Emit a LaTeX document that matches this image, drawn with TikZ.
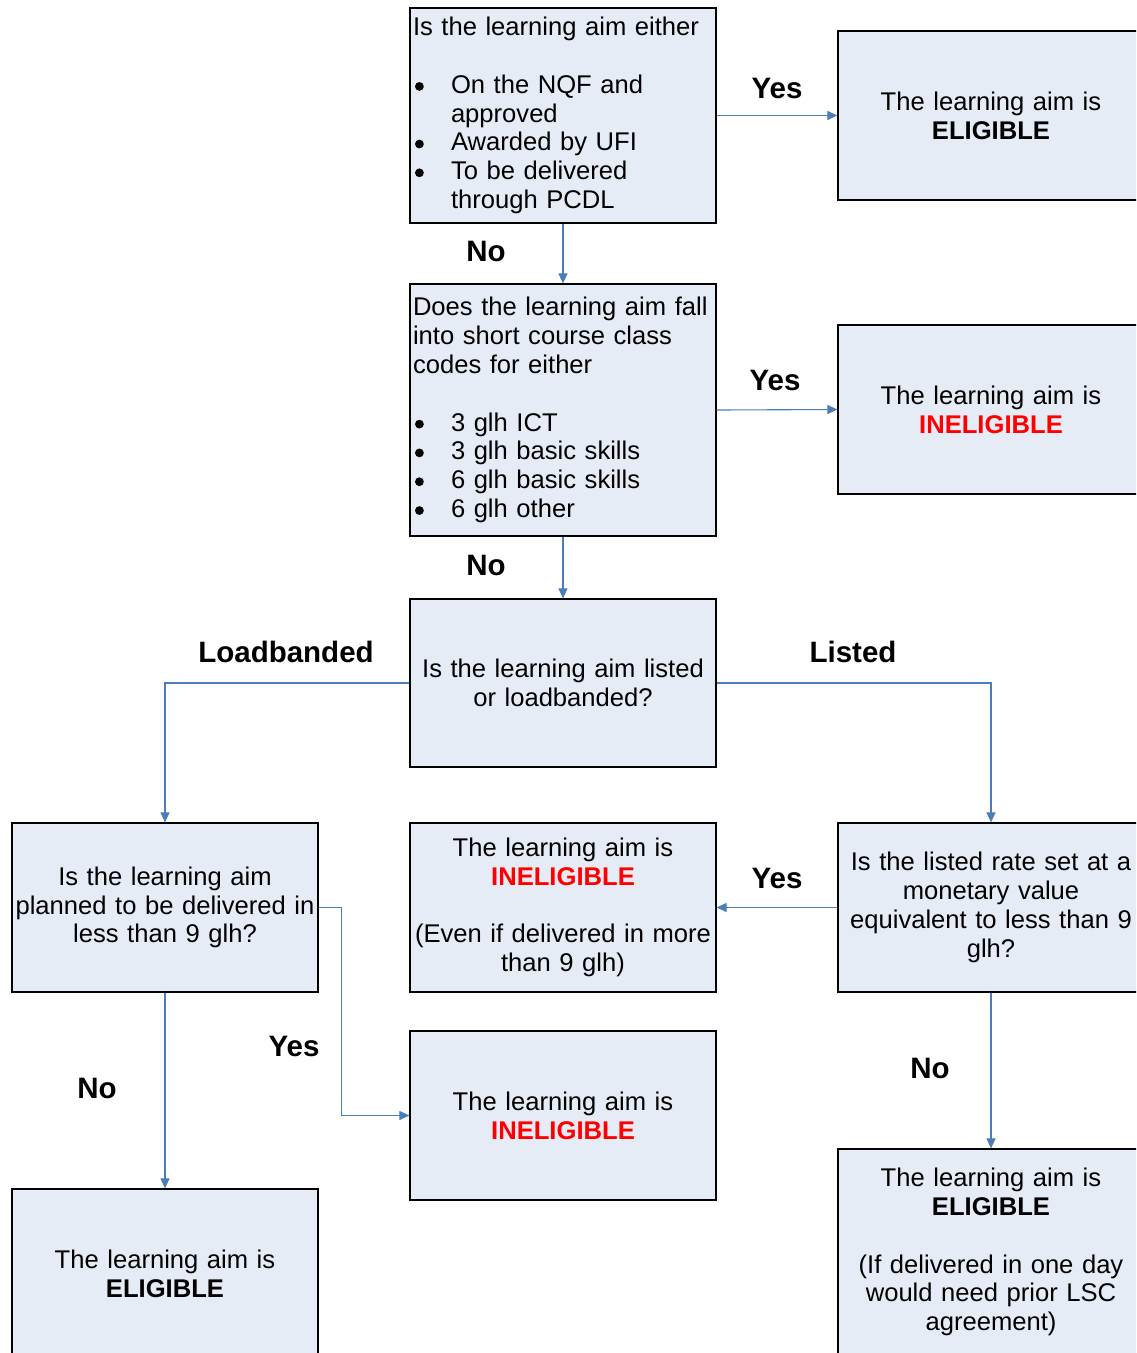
\documentclass[tikz,border=0pt]{standalone}
\usepackage{fontspec}
\setmainfont{Liberation Sans}
\usetikzlibrary{arrows.meta}
\definecolor{boxfill}{HTML}{E6ECF6}
\definecolor{linkblue}{HTML}{4A7EBB}
\definecolor{inelred}{HTML}{FF0000}
\newcommand{\blt}[1]{\makebox[40pt][l]{\hspace{4pt}\raisebox{2.5pt}{\tikz\fill[black] (0,0) circle (4.4pt);}}#1}
\newcommand{\inel}{\textcolor{inelred}{\textbf{INELIGIBLE}}}
\begin{document}
\begin{tikzpicture}[x=1pt,y=-1pt,
  box/.style={draw=black, line width=1.2pt, fill=boxfill, minimum width=306pt,
    minimum height=169pt, inner xsep=1pt, inner ysep=2pt, text width=304pt,
    align=center, font=\fontsize{25.6}{28.8}\selectfont},
  lbox/.style={box, align=left},
  link/.style={draw=linkblue, line width=1.1pt, -{Triangle[length=10pt,width=9pt]}},
  lab/.style={font=\bfseries\fontsize{29.5}{32}\selectfont, inner sep=0pt}]
\useasboundingbox (0,0) rectangle (1136,1353);
\clip (0,0) rectangle (1136,1353);

\node[lbox, minimum height=215pt] (b1) at (563,115.5)
  {\hspace*{2pt}Is the learning aim either\\[28.8pt]
   \blt{On the NQF and}\\\hspace*{40pt}approved\\
   \blt{Awarded by UFI}\\
   \blt{To be delivered}\\\hspace*{40pt}through PCDL};
\node[box] (y1) at (991,115.5) {The learning aim is\\\textbf{ELIGIBLE}};

\node[lbox, minimum height=252pt] (b2) at (563,410)
  {\hspace*{2pt}Does the learning aim fall\\\hspace*{2pt}into short course class\\\hspace*{2pt}codes for either\\[28.8pt]
   \blt{3 glh ICT}\\\blt{3 glh basic skills}\\\blt{6 glh basic skills}\\\blt{6 glh other}};
\node[box] (y2) at (991,409.5) {The learning aim is\\\inel};

\node[box, minimum height=168pt] (b3) at (563,683) {Is the learning aim listed\\or loadbanded?};

\node[box] (b4) at (165,907.5) {Is the learning aim\\planned to be delivered in\\less than 9 glh?};
\node[box] (b5) at (563,907.5) {The learning aim is\\\inel\\[28.8pt](Even if delivered in more\\than 9 glh)};
\node[box] (b6) at (991,907.5) {Is the listed rate set at a\\monetary value\\equivalent to less than 9\\glh?};

\node[box] (b8) at (563,1115.5) {The learning aim is\\\inel};
\node[box] (b7) at (165,1273.5) {The learning aim is\\\textbf{ELIGIBLE}};
\node[box, minimum height=206pt] (b9) at (991,1252)
  {The learning aim is\\\textbf{ELIGIBLE}\\[28.8pt](If delivered in one day\\would need prior LSC\\agreement)};

\draw[link] (b1.east) -- (y1.west);
\draw[link] (b1.south) -- (b2.north);
\draw[link] (b2.east) -- (y2.west);
\draw[link] (b2.south) -- (b3.north);
\draw[link] (b3.west) -| (b4.north);
\draw[link] (b3.east) -| (b6.north);
\draw[link] (b6.west) -- (b5.east);
\draw[link] (b4.east) -- ++(23,0) |- (b8.west);
\draw[link] (b4.south) -- (b7.north);
\draw[link] (b6.south) -- (b9.north);

\node[lab] (l1) at (777,88) {Yes};
\node[lab] (l2) at (486,251) {No};
\node[lab] (l3) at (775,380) {Yes};
\node[lab] (l4) at (486,565) {No};
\node[lab] (l5) at (286,652) {Loadbanded};
\node[lab] (l6) at (853,652) {Listed};
\node[lab] (l7) at (777,878) {Yes};
\node[lab] (l8) at (294,1046) {Yes};
\node[lab] (l9) at (97,1088) {No};
\node[lab] (l10) at (930,1068) {No};
\end{tikzpicture}
\end{document}
